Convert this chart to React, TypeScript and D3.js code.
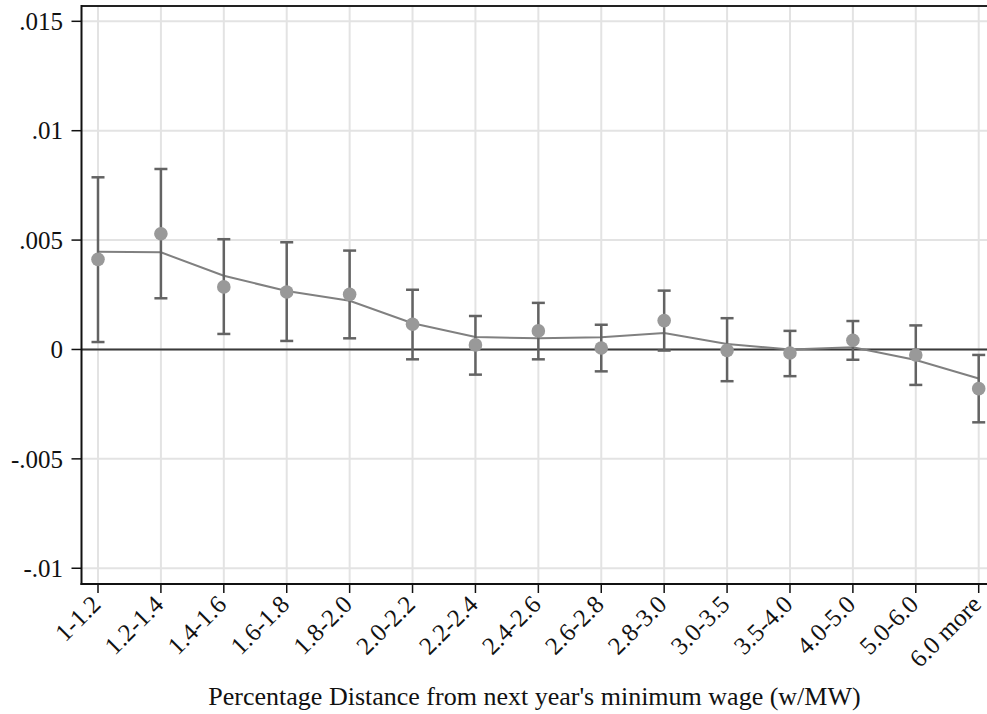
import React from "react";
import * as d3 from "d3";

const categories = ["1-1.2","1.2-1.4","1.4-1.6","1.6-1.8","1.8-2.0","2.0-2.2","2.2-2.4","2.4-2.6","2.6-2.8","2.8-3.0","3.0-3.5","3.5-4.0","4.0-5.0","5.0-6.0","6.0 more"];
const estimates = [0.00412,0.00529,0.00286,0.00263,0.00252,0.00115,0.00021,0.00085,0.00007,0.00132,-0.00004,-0.00016,0.00042,-0.00025,-0.00179];
const ciUpper = [0.00787,0.00825,0.00504,0.0049,0.00452,0.00273,0.00153,0.00213,0.00113,0.00269,0.00143,0.00085,0.0013,0.0011,-0.00025];
const ciLower = [0.00034,0.00234,0.00071,0.00039,0.00051,-0.00045,-0.00115,-0.00045,-0.001,-0.00005,-0.00145,-0.00122,-0.00047,-0.00162,-0.00333];
const smooth = [0.00447,0.00444,0.00337,0.00267,0.00223,0.0012,0.00057,0.00051,0.00056,0.00075,0.00025,0.0,0.0001,-0.00048,-0.00133];
const yTicks = [-0.01,-0.005,0,0.005,0.01,0.015];
const yTickLabels = ["-.01","-.005","0",".005",".01",".015"];
const xTitle = "Percentage Distance from next year's minimum wage (w/MW)";

export default function App() {
  const W = 987, H = 714;
  const left = 81.5, top = 6, bottom = 584, right = 1000;
  const x = d3.scalePoint<string>().domain(categories).range([98, 978.7]);
  const y = d3.scaleLinear().domain([-0.01072, 0.0157]).range([bottom, top]);
  const line = d3.line<number>().x((_, i) => x(categories[i])!).y(d => y(d));
  const font = "'Liberation Serif', 'Times New Roman', serif";
  const cap = 6.5;
  return (
    <svg width={W} height={H} style={{ position: "absolute", left: 0, top: 0, background: "#fff" }}>
      <rect x={0} y={0} width={W} height={H} fill="#fff" />
      {yTicks.map((t, i) => (
        <line key={"gy" + i} x1={left} x2={right} y1={y(t)} y2={y(t)} stroke="#e3e3e3" strokeWidth={2} />
      ))}
      {categories.map(c => (
        <line key={"gx" + c} x1={x(c)} x2={x(c)} y1={top} y2={bottom} stroke="#e3e3e3" strokeWidth={2} />
      ))}
      <line x1={left} x2={right} y1={y(0)} y2={y(0)} stroke="#3a3a3a" strokeWidth={2} />
      <path d={line(smooth)!} fill="none" stroke="#808080" strokeWidth={2} />
      {categories.map((c, i) => {
        const cx = x(c)!;
        return (
          <g key={"eb" + c} stroke="#636363" strokeWidth={2.5}>
            <line x1={cx} x2={cx} y1={y(ciUpper[i])} y2={y(ciLower[i])} />
            <line x1={cx - cap} x2={cx + cap} y1={y(ciUpper[i])} y2={y(ciUpper[i])} />
            <line x1={cx - cap} x2={cx + cap} y1={y(ciLower[i])} y2={y(ciLower[i])} />
          </g>
        );
      })}
      {categories.map((c, i) => (
        <circle key={"pt" + c} cx={x(c)} cy={y(estimates[i])} r={6.8} fill="#999" />
      ))}
      <line x1={left} x2={right} y1={top} y2={top} stroke="#222" strokeWidth={2} />
      <line x1={left} x2={left} y1={top - 1} y2={bottom + 1} stroke="#111" strokeWidth={2} />
      <line x1={left - 1} x2={right} y1={bottom} y2={bottom} stroke="#111" strokeWidth={2} />
      {yTicks.map((t, i) => (
        <g key={"yt" + i}>
          <line x1={left - 10} x2={left} y1={y(t)} y2={y(t)} stroke="#111" strokeWidth={1.5} />
          <text x={63} y={y(t)} dy="0.35em" textAnchor="end" fontFamily={font} fontSize={25} fill="#111">{yTickLabels[i]}</text>
        </g>
      ))}
      {categories.map(c => {
        const cx = x(c)!;
        return (
          <g key={"xt" + c}>
            <line x1={cx} x2={cx} y1={bottom} y2={bottom + 9} stroke="#111" strokeWidth={1.5} />
            <text transform={`translate(${cx + 4},${bottom + 22}) rotate(-45)`} textAnchor="end" fontFamily={font} fontSize={25} fill="#111">{c}</text>
          </g>
        );
      })}
      <text x={534.5} y={705} textAnchor="middle" fontFamily={font} fontSize={26} fill="#111">{xTitle}</text>
    </svg>
  );
}
